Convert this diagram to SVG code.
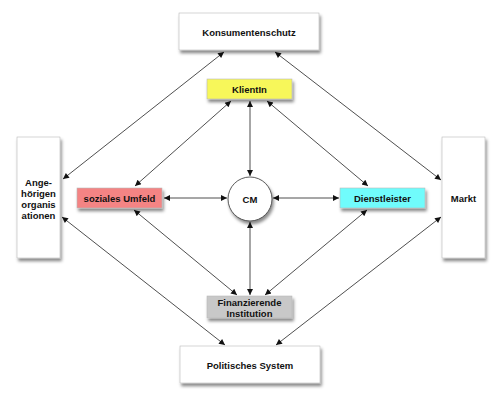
<svg xmlns="http://www.w3.org/2000/svg" width="500" height="402" viewBox="0 0 500 402">
<style>
.box{stroke:#b8b8b8;stroke-width:0.6;filter:url(#sh)}
.w{fill:#ffffff}
.lbl{font-family:"Liberation Sans",Arial,sans-serif;font-weight:bold;font-size:9.5px;fill:#111;text-anchor:middle;dominant-baseline:central}
.con{stroke:#222;stroke-width:0.8;fill:none;marker-start:url(#ah);marker-end:url(#ah)}
</style>
<defs>
<filter id="sh" x="-30%" y="-30%" width="160%" height="170%">
<feDropShadow dx="1.5" dy="3" stdDeviation="1.8" flood-color="#000" flood-opacity="0.45"/>
</filter>
<marker id="ah" viewBox="0 0 10 10" refX="10" refY="5" markerWidth="8" markerHeight="6" markerUnits="userSpaceOnUse" orient="auto-start-reverse">
<path d="M0,0 L10,5 L0,10 z" fill="#111"/>
</marker>
</defs>
<rect width="500" height="402" fill="#ffffff"/>
<g id="connectors">
<line class="con" x1="224" y1="52" x2="63" y2="179"/>
<line class="con" x1="275" y1="52" x2="441" y2="180"/>
<line class="con" x1="231" y1="101" x2="135" y2="186"/>
<line class="con" x1="250" y1="101" x2="250" y2="176"/>
<line class="con" x1="267" y1="101" x2="368" y2="186"/>
<line class="con" x1="164" y1="198" x2="227" y2="198"/>
<line class="con" x1="273" y1="198" x2="339" y2="198"/>
<line class="con" x1="62" y1="217" x2="225" y2="345"/>
<line class="con" x1="134" y1="210" x2="237" y2="295"/>
<line class="con" x1="250" y1="222" x2="250" y2="295"/>
<line class="con" x1="367" y1="210" x2="265" y2="295"/>
<line class="con" x1="441" y1="217" x2="276" y2="345"/>
</g>
<g id="konsumentenschutz">
<rect class="box w" x="179" y="13" width="140" height="37"/>
<text class="lbl" x="249" y="32">Konsumentenschutz</text>
</g>
<g id="klientin">
<rect class="box" x="207" y="79" width="85" height="20" fill="#f7f75a"/>
<text class="lbl" x="249.5" y="89">KlientIn</text>
</g>
<g id="angehoerigen">
<rect class="box w" x="17" y="137" width="43" height="121"/>
<text class="lbl" x="38.5" y="182">Ange-</text>
<text class="lbl" x="38.5" y="193">hörigen</text>
<text class="lbl" x="38.5" y="204">organis</text>
<text class="lbl" x="38.5" y="215">ationen</text>
</g>
<g id="markt">
<rect class="box w" x="442" y="137" width="43" height="121"/>
<text class="lbl" x="463.5" y="198">Markt</text>
</g>
<g id="soziales-umfeld">
<rect class="box" x="77" y="188" width="85" height="20" fill="#f48484"/>
<text class="lbl" x="119.5" y="198">soziales Umfeld</text>
</g>
<g id="cm">
<circle class="box w" cx="250" cy="199" r="22" stroke="#333" style="stroke:#333;stroke-width:0.8"/>
<text class="lbl" x="250" y="199">CM</text>
</g>
<g id="dienstleister">
<rect class="box" x="340" y="188" width="85" height="20" fill="#70fcfc"/>
<text class="lbl" x="382.5" y="198">Dienstleister</text>
</g>
<g id="finanzierende-institution">
<rect class="box" x="207" y="296" width="85" height="22" fill="#c8c8c8"/>
<text class="lbl" x="249.5" y="302.5">Finanzierende</text>
<text class="lbl" x="249.5" y="313">Institution</text>
</g>
<g id="politisches-system">
<rect class="box w" x="180" y="346" width="140" height="37"/>
<text class="lbl" x="250" y="365">Politisches System</text>
</g>
</svg>
